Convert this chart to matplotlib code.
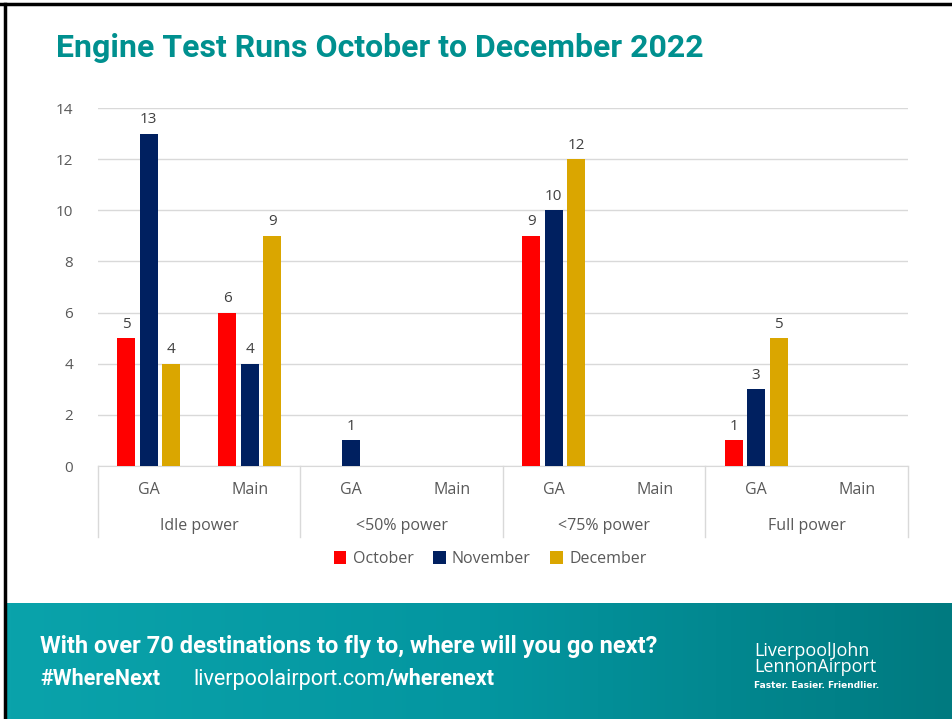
import numpy as np
import matplotlib
matplotlib.use("Agg")
import matplotlib.pyplot as plt
from matplotlib.patches import Patch
from matplotlib.colors import LinearSegmentedColormap
import matplotlib.transforms as mtransforms

# ---- data ----
groups = ["Idle power", "<50% power", "<75% power", "Full power"]
subcats = ["GA", "Main"]
series_names = ["October", "November", "December"]
october = [5, 6, 0, 0, 9, 0, 1, 0]
november = [13, 4, 1, 0, 10, 0, 3, 0]
december = [4, 9, 0, 0, 12, 0, 5, 0]
yticks = [0, 2, 4, 6, 8, 10, 12, 14]
title = "Engine Test Runs October to December 2022"

colors = ["#FF0000", "#002060", "#DAA600"]
label_color = "#595959"
W, H = 953, 719

fig = plt.figure(figsize=(W / 100, H / 100), dpi=100)
fig.patch.set_facecolor("white")

# footer gradient band
bg = fig.add_axes([7 / W, 0, (W - 7) / W, (H - 603) / H])
grad = np.linspace(0, 1, 256).reshape(1, -1)
cmap = LinearSegmentedColormap.from_list("t", ["#0AA3AB", "#0496A0", "#007A80"])
bg.imshow(grad, aspect="auto", cmap=cmap, extent=[0, 1, 0, 1])
bg.set_axis_off()

# borders
fig.add_artist(plt.Line2D([0, 1], [(H - 4) / H, (H - 4) / H], color="black", lw=2.5,
                          transform=fig.transFigure))
fig.add_artist(plt.Line2D([5 / W, 5 / W], [0, (H - 4) / H], color="black", lw=2.5,
                          transform=fig.transFigure))

# title
fig.text(56 / W, 1 - 48 / H, title, color="#00908F", fontsize=23, fontweight="bold",
         family="Roboto", va="center", ha="left")

# main axes
ax = fig.add_axes([98 / W, (H - 466) / H, 810 / W, 358 / H])
n = len(october)
x = np.arange(n)
bw = 0.178
pitch = 0.222
data = [october, november, december]
for i, (vals, c) in enumerate(zip(data, colors)):
    xs = x + (i - 1) * pitch
    ax.bar(xs, vals, width=bw, color=c, zorder=3)
    for xi, v in zip(xs, vals):
        if v > 0:
            ax.text(xi, v + 0.25, str(v), ha="center", va="bottom", fontsize=11,
                    color="#404040", family="Open Sans")

ax.set_xlim(-0.5, n - 0.5)
ax.set_ylim(0, 14)
ax.set_yticks(yticks)
ax.set_yticklabels([str(t) for t in yticks], fontsize=11, color=label_color, family="Open Sans")
ax.tick_params(axis="y", length=0, pad=18)
ax.tick_params(axis="x", length=0, labelbottom=False)
ax.grid(axis="y", color="#D9D9D9", lw=1, zorder=0)
for s in ["top", "right", "left"]:
    ax.spines[s].set_visible(False)
ax.spines["bottom"].set_color("#D9D9D9")

trans = mtransforms.blended_transform_factory(ax.transData, ax.transAxes)
ph = 358.0
for b in [-0.5, 1.5, 3.5, 5.5, 7.5]:
    ax.plot([b, b], [0, -71 / ph], color="#D9D9D9", lw=1, transform=trans, clip_on=False)
for i in range(n):
    ax.text(i, -24 / ph, subcats[i % 2], transform=trans, ha="center", va="center",
            fontsize=11.5, color=label_color, family="Open Sans")
for g, name in enumerate(groups):
    ax.text(2 * g + 0.5, -60 / ph, name, transform=trans, ha="center", va="center",
            fontsize=11.5, color=label_color, family="Open Sans")

handles = [Patch(facecolor=c, edgecolor="none") for c in colors]
leg = fig.legend(handles, series_names, loc="center", bbox_to_anchor=(490 / W, 1 - 559 / H),
                 ncol=3, frameon=False, handlelength=0.8, handleheight=0.8,
                 columnspacing=1.2, handletextpad=0.4,
                 prop={"family": "Open Sans", "size": 11.5})
for t in leg.get_texts():
    t.set_color(label_color)

# footer texts
fig.text(40 / W, 1 - 647 / H, "With over 70 destinations to fly to, where will you go next?",
         color="white", fontsize=17, fontweight="bold", family="Roboto", va="center")
fig.text(40 / W, 1 - 679 / H, "#WhereNext", color="white", fontsize=15.5,
         fontweight="bold", family="Roboto", va="center")
t1 = fig.text(193 / W, 1 - 679 / H, "liverpoolairport.com", color="white", fontsize=15.5,
              family="Roboto", va="center")
fig.canvas.draw()
bb = t1.get_window_extent()
fig.text(bb.x1 / W, 1 - 679 / H, "/wherenext", color="white", fontsize=15.5,
         fontweight="bold", family="Roboto", va="center")

fig.text(754 / W, 1 - 659 / H, "LiverpoolJohn\nLennonAirport", color="white", fontsize=13,
         family="Open Sans", va="center", linespacing=0.85)
fig.text(754 / W, 1 - 686 / H, "Faster. Easier. Friendlier.", color="white", fontsize=6.5,
         family="DejaVu Sans", fontweight="bold", va="center")

fig.savefig("out.png", dpi=100, facecolor="white")
